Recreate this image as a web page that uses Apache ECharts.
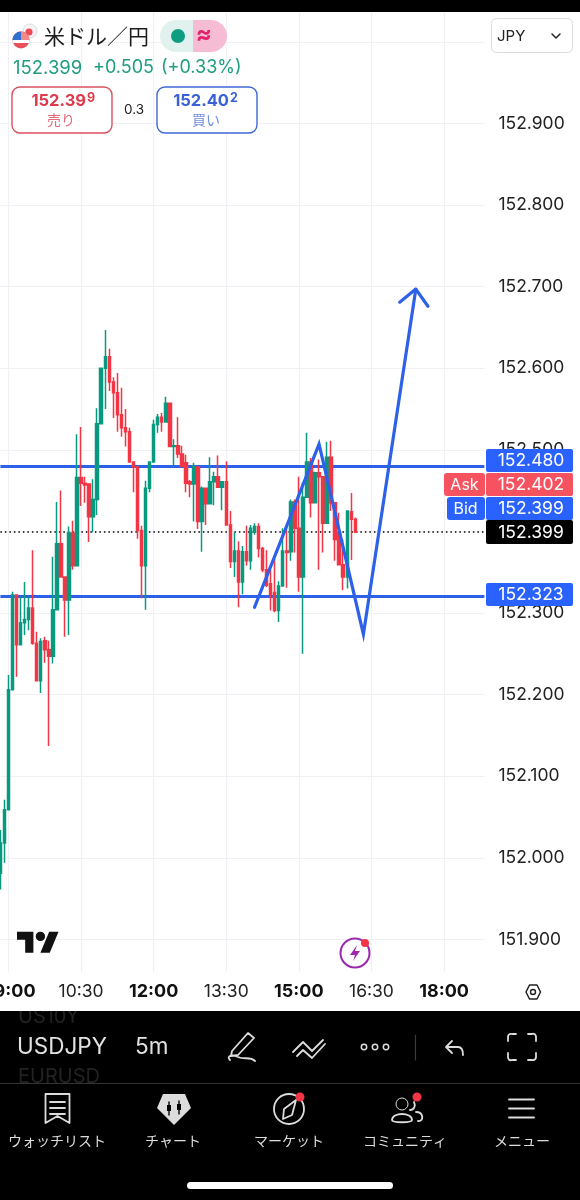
<!DOCTYPE html>
<html>
<head>
<meta charset="utf-8">
<style>
  html, body { margin: 0; padding: 0; background: #fff; }
  #chart { width: 580px; height: 1200px; }
</style>
<script src="https://cdn.jsdelivr.net/npm/echarts@6/dist/echarts.min.js"></script>
</head>
<body>
<div id="chart"></div>
<script>
// 5m candles, first one is 08:50
const opens = [151.981,152.018,152.059,152.206,152.322,152.261,152.288,152.292,152.306,152.263,152.217,152.266,152.255,152.247,152.304,152.385,152.344,152.316,152.398,152.358,152.466,152.459,152.458,152.418,152.439,152.532,152.600,152.614,152.583,152.570,152.543,152.527,152.522,152.485,152.479,152.401,152.358,152.453,152.485,152.531,152.540,152.534,152.557,152.504,152.505,152.495,152.484,152.461,152.458,152.479,152.412,152.453,152.434,152.461,152.467,152.454,152.461,152.408,152.363,152.376,152.338,152.375,152.364,152.399,152.406,152.379,152.353,152.336,152.325,152.303,152.333,152.376,152.375,152.436,152.404,152.344,152.442,152.485,152.435,152.472,152.467,152.410,152.491,152.435,152.399,152.359,152.344,152.424,152.415]
const closes = [152.018,152.059,152.206,152.322,152.261,152.288,152.292,152.306,152.263,152.217,152.265,152.255,152.247,152.304,152.385,152.344,152.316,152.398,152.358,152.466,152.459,152.457,152.418,152.439,152.532,152.600,152.614,152.583,152.570,152.543,152.527,152.522,152.485,152.479,152.401,152.358,152.453,152.485,152.531,152.540,152.534,152.557,152.504,152.505,152.495,152.480,152.459,152.458,152.480,152.412,152.453,152.434,152.461,152.467,152.454,152.461,152.408,152.363,152.376,152.338,152.375,152.364,152.404,152.406,152.379,152.353,152.334,152.323,152.303,152.333,152.376,152.374,152.436,152.404,152.344,152.442,152.485,152.435,152.472,152.467,152.410,152.491,152.435,152.390,152.359,152.344,152.425,152.415,152.399]
const lows = [151.961,151.994,152.059,152.206,152.222,152.261,152.273,152.279,152.261,152.217,152.202,152.239,152.137,152.238,152.304,152.344,152.271,152.273,152.353,152.358,152.431,152.435,152.387,152.399,152.420,152.532,152.550,152.572,152.539,152.522,152.516,152.504,152.485,152.448,152.391,152.318,152.304,152.448,152.485,152.521,152.522,152.534,152.504,152.480,152.490,152.480,152.448,152.442,152.412,152.403,152.375,152.408,152.434,152.432,152.454,152.426,152.408,152.355,152.344,152.307,152.323,152.358,152.353,152.396,152.368,152.350,152.332,152.303,152.301,152.289,152.333,152.331,152.364,152.374,152.326,152.250,152.442,152.417,152.435,152.353,152.374,152.410,152.425,152.364,152.359,152.328,152.330,152.365,152.399]
const highs = [152.034,152.071,152.224,152.326,152.322,152.320,152.338,152.320,152.377,152.277,152.269,152.271,152.266,152.369,152.436,152.450,152.344,152.406,152.413,152.519,152.528,152.467,152.459,152.464,152.551,152.600,152.647,152.624,152.589,152.594,152.576,152.550,152.527,152.485,152.479,152.407,152.462,152.486,152.537,152.544,152.545,152.565,152.557,152.513,152.540,152.505,152.494,152.463,152.484,152.480,152.455,152.453,152.491,152.473,152.493,152.461,152.486,152.425,152.399,152.388,152.382,152.407,152.408,152.410,152.410,152.381,152.377,152.353,152.366,152.339,152.404,152.406,152.439,152.439,152.467,152.460,152.521,152.490,152.473,152.488,152.467,152.510,152.511,152.436,152.423,152.390,152.425,152.447,152.417]

const priceTicks = [151.9, 152.0, 152.1, 152.2, 152.3, 152.4, 152.5, 152.6, 152.7, 152.8, 152.9]
const gridTicks = [...priceTicks, 153.0]
const timeLabels = ['09:00', '10:30', '12:00', '13:30', '15:00', '16:30', '18:00']
const boldLabels = ['09:00', '12:00', '15:00', '18:00']

const supportResistance = [152.480, 152.323]
const lastPrice = 152.399

// hand drawn path and arrow head
const drawnTimes = ['14:05', '15:25', '16:20', '17:25']
const drawnPrices = [152.307, 152.507, 152.274, 152.697]
const arrowTimes = ['17:05', '17:25', '17:40']
const arrowPrices = [152.681, 152.697, 152.676]

const priceTags = [
  { text: '152.480', y: 449, h: 23, bg: '#2962ff' },
  { text: '152.402', y: 473, h: 23, bg: '#f7525f' },
  { text: '152.399', y: 497, h: 23, bg: '#2962ff' },
  { text: '152.399', y: 520, h: 24, bg: '#000000' },
  { text: '152.323', y: 583, h: 23, bg: '#2962ff' }
]

function timeRange (count) {
  const out = []
  for (let i = 0; i < count; i++) {
    const m = 8 * 60 + 50 + i * 5
    out.push(`${Math.floor(m / 60)}`.padStart(2, '0') + ':' + `${m % 60}`.padStart(2, '0'))
  }
  return out
}

const categories = timeRange(121)
const candles = opens.map((o, i) => [o, closes[i], lows[i], highs[i]])

const LATIN = 'Inter, Roboto, sans-serif'
const CJK = '"Noto Sans CJK JP", sans-serif'
const BLUE = '#2d62e8'
const ICON = '#dcdcdc'

function text (x, y, str, size, fill, o = {}) {
  return {
    type: 'text', z: 100, x, y,
    style: {
      text: str, fill,
      font: `${o.weight || 'normal'} ${size}px ${o.family || LATIN}`,
      textAlign: o.align || 'left', textVerticalAlign: 'middle'
    }
  }
}
function box (x, y, w, h, fill, o = {}) {
  return {
    type: 'rect', z: o.z || 99, shape: { x, y, width: w, height: h, r: o.r || 0 },
    style: { fill, stroke: o.stroke || null, lineWidth: o.lineWidth || 1 }
  }
}
function dot (x, y, r, fill, o = {}) {
  return { type: 'circle', z: o.z || 100, shape: { cx: x, cy: y, r }, style: { fill, stroke: o.stroke || null, lineWidth: o.lineWidth || 1 } }
}
// graphic has no plain path type, so each icon gets its own registered shape
let pathCount = 0
function path (d, o = {}) {
  const name = 'iconPath' + pathCount++
  echarts.graphic.registerShape(name, echarts.graphic.extendPath(d))
  return {
    type: name, z: o.z || 100, x: o.x || 0, y: o.y || 0, scaleX: o.scale || 1, scaleY: o.scale || 1,
    style: { fill: o.fill || 'none', stroke: o.stroke || 'none', lineWidth: o.lineWidth || 1.8, lineCap: 'round', lineJoin: 'round' }
  }
}

const graphics = [
  // status bar edge
  box(0, 0, 580, 12, '#000'),

  // header
  dot(30, 31, 7, '#f4f4f4', { stroke: '#dddddd' }),
  dot(29, 32, 3.6, '#ee4a55'),
  dot(21, 40, 8.5, '#e8505b'),
  path('M12.5 40 A8.5 8.5 0 0 1 21 31.5 L21 40 Z', { fill: '#2f6fd0' }),
  path('M21 31.5 A8.5 8.5 0 0 1 29.5 40 L21 40 Z', { fill: '#f08a8a' }),
  box(12.8, 40, 16.4, 3, '#ffffff', { z: 100 }),
  text(44, 36, '米ドル／円', 21, '#1c1c1c', { family: CJK }),
  path('M193 20 H176 A16 16 0 0 0 176 52 H193 Z', { fill: '#e1f2ee' }),
  path('M193 20 H211 A16 16 0 0 1 211 52 H193 Z', { fill: '#f6bcd4' }),
  dot(178, 36, 7, '#0f9d82'),
  text(204, 35, '≈', 24, '#e2246c', { align: 'center', weight: 'bold' }),
  text(13, 68, '152.399', 18.5, '#1f9d80'),
  text(93, 68, '+0.505', 18, '#1f9d80'),
  text(161, 68, '(+0.33%)', 18, '#1f9d80'),

  box(12, 87, 100, 46, '#fff', { r: 8, stroke: '#d9505f', lineWidth: 1.4 }),
  text(86, 101, '152.39', 16.5, '#de3a4e', { align: 'right', weight: 'bold' }),
  text(87, 98, '9', 12.5, '#de3a4e', { weight: 'bold' }),
  text(61, 120, '売り', 14, '#e36a78', { align: 'center', family: CJK }),
  text(134, 110, '0.3', 13.5, '#222', { align: 'center' }),
  box(157, 87, 100, 46, '#fff', { r: 8, stroke: '#3f68d8', lineWidth: 1.4 }),
  text(229, 101, '152.40', 16.5, '#3a62d6', { align: 'right', weight: 'bold' }),
  text(230, 98, '2', 12.5, '#3a62d6', { weight: 'bold' }),
  text(206, 120, '買い', 14, '#7390dd', { align: 'center', family: CJK }),

  box(491.5, 18.5, 81, 34, '#fff', { r: 5, stroke: '#dcdce0' }),
  text(497, 36, 'JPY', 15, '#222'),
  path('M552 34 L556 38 L560 34', { stroke: '#222', lineWidth: 1.5 }),

  // logos over the plot
  path('M14 22H7V11H0V4h14v18zM28 22h-8l7.5-18h8L28 22z', { x: 17, y: 927, scale: 1.17, fill: '#111' }),
  dot(40.4, 936.4, 4.7, '#111'),
  dot(355, 953, 14.5, '#fff', { stroke: '#9b27af', lineWidth: 2 }),
  path('M357 945 L350 955 L355 955 L353 961 L360 951 L355 951 Z', { fill: '#9b27af' }),
  dot(365, 943, 4, '#f23645'),

  // time axis corner
  path('M526 992 L529.5 985 L537 985 L540.5 992 L537 999 L529.5 999 Z', { stroke: '#222', lineWidth: 1.5 }),
  dot(533, 992, 2.5, '#fff', { stroke: '#222', lineWidth: 1.4 }),

  // toolbar and nav
  box(0, 1011, 580, 189, '#000', { z: 98 }),
  text(18, 1017, 'US10Y', 20, '#222'),
  box(0, 1003, 150, 8, '#fff', { z: 101 }),
  text(18, 1077, 'EURUSD', 20, '#222'),
  text(17, 1047, 'USDJPY', 22.5, '#e2e2e2'),
  text(135, 1047, '5m', 22.5, '#e2e2e2'),
  path('M232 1051 L248 1033 L254 1038 L238 1055 L231 1056 Z M230 1060 C226 1056 232 1054 238 1057 C244 1060 250 1056 255 1061', { stroke: ICON }),
  path('M293 1052 L303 1042 L312 1051 L323 1040 M297 1056 L303 1050 L312 1058 L325 1044', { stroke: ICON }),
  dot(364, 1047, 2.7, '#000', { stroke: ICON, lineWidth: 1.5 }),
  dot(375, 1047, 2.7, '#000', { stroke: ICON, lineWidth: 1.5 }),
  dot(386, 1047, 2.7, '#000', { stroke: ICON, lineWidth: 1.5 }),
  path('M415.5 1035 V1060', { stroke: '#3a3a3a', lineWidth: 1.2 }),
  path('M452 1041 L446 1047 L452 1053 M447 1047 H458 C462 1047 463 1051 463 1055', { stroke: ICON }),
  path('M508 1041 V1037 A3 3 0 0 1 512 1034 H516 M528 1034 H532 A3 3 0 0 1 536 1037 V1041 M536 1053 V1057 A3 3 0 0 1 532 1060 H528 M516 1060 H512 A3 3 0 0 1 508 1057 V1053', { stroke: ICON }),
  path('M0 1083.5 H580', { stroke: '#333', lineWidth: 1 }),

  path('M45.5 1094 H69.5 V1123 L57.5 1116 L45.5 1123 Z M50 1102 H65 M50 1108 H65 M50 1114 H65', { stroke: ICON }),
  path('M163 1094 H185 L191 1108 L174 1125 L157 1108 Z', { fill: ICON }),
  path('M169 1102 V1115 M179 1101 V1114', { stroke: '#000', lineWidth: 1.4, z: 101 }),
  box(167, 1105, 4, 6, '#000', { z: 101 }),
  box(177, 1104, 4, 6, '#000', { z: 101 }),
  dot(289, 1109, 15, '#000', { stroke: ICON, lineWidth: 1.8 }),
  path('M296 1100 L292 1115 L283 1119 L284 1109 Z', { stroke: ICON, z: 101 }),
  dot(300, 1097, 4.5, '#f23645', { z: 102 }),
  dot(402, 1104, 6, '#000', { stroke: ICON }),
  path('M392 1120 C392 1112 412 1112 412 1120 C412 1123 392 1123 392 1120 Z', { stroke: ICON }),
  path('M414 1102 C416 1106 414 1110 410 1110 M416 1112 C424 1112 424 1122 418 1121', { stroke: ICON }),
  dot(417, 1097, 4.5, '#f23645', { z: 102 }),
  path('M509 1099.5 H534 M509 1108.5 H534 M509 1117.5 H534', { stroke: ICON }),
  text(57, 1141, 'ウォッチリスト', 14, ICON, { align: 'center', family: CJK }),
  text(173, 1141, 'チャート', 14, ICON, { align: 'center', family: CJK }),
  text(289, 1141, 'マーケット', 14, ICON, { align: 'center', family: CJK }),
  text(405, 1141, 'コミュニティ', 14, ICON, { align: 'center', family: CJK }),
  text(522, 1141, 'メニュー', 14, ICON, { align: 'center', family: CJK }),
  box(187, 1182, 206, 7, '#fff', { r: 3.5 }),

  // price tags
  ...priceTags.map(t => box(486, t.y, 87, t.h, t.bg, { r: 2 })),
  ...priceTags.map(t => text(531, t.y + t.h / 2 + 0.5, t.text, 17.5, '#fff', { align: 'center' })),
  box(444, 473, 41, 23, '#f7525f', { r: 3 }),
  box(447, 497, 38, 23, '#2962ff', { r: 3 }),
  text(464.5, 485, 'Ask', 16, '#fff', { align: 'center' }),
  text(465.5, 509, 'Bid', 16, '#fff', { align: 'center' })
]

const chart = echarts.init(document.getElementById('chart'), null, { renderer: 'canvas' })
chart.setOption({
  animation: false,
  backgroundColor: '#fff',
  grid: { left: 0.4, top: 12, width: 484, height: 960, outerBoundsMode: 'none' },
  xAxis: {
    type: 'category',
    data: categories,
    boundaryGap: false,
    axisLine: { show: false },
    axisTick: { show: false },
    axisLabel: {
      interval: (i, v) => timeLabels.includes(v),
      hideOverlap: false,
      margin: 11,
      fontFamily: LATIN,
      fontSize: 17.5,
      color: '#222',
      formatter: v => boldLabels.includes(v) ? `{b|${v}}` : v,
      rich: { b: { fontFamily: LATIN, fontSize: 18, fontWeight: 'bold', color: '#111' } }
    },
    splitLine: {
      show: true,
      interval: (i, v) => timeLabels.includes(v),
      lineStyle: { color: '#f0f1f4', width: 1.2 }
    }
  },
  yAxis: {
    type: 'value',
    position: 'right',
    min: 151.86,
    max: 153.0366,
    axisLine: { show: false },
    axisTick: { show: false, customValues: gridTicks },
    axisLabel: {
      customValues: priceTicks,
      margin: 14,
      padding: [2, 0, 0, 0],
      fontFamily: LATIN,
      fontSize: 17.5,
      color: '#222',
      formatter: v => v.toFixed(3)
    },
    splitLine: { show: true, lineStyle: { color: '#f0f1f4', width: 1.2 } }
  },
  series: [
    {
      type: 'candlestick',
      data: candles,
      barWidth: 3,
      itemStyle: { color: '#089981', color0: '#f23645', borderColor: '#089981', borderColor0: '#f23645', borderWidth: 1.5 },
      markLine: {
        silent: true,
        symbol: ['none', 'none'],
        z: 1,
        label: { show: false },
        data: [
          ...supportResistance.map(v => ({ yAxis: v, lineStyle: { color: BLUE, width: 3, type: 'solid' } })),
          { yAxis: lastPrice, lineStyle: { color: '#000', width: 1.5, type: [1.5, 3] } }
        ]
      }
    },
    {
      type: 'line',
      data: drawnTimes.map((t, i) => [t, drawnPrices[i]]),
      symbol: 'none',
      z: 5,
      lineStyle: { color: BLUE, width: 3.2, cap: 'round', join: 'miter' }
    },
    {
      type: 'line',
      data: arrowTimes.map((t, i) => [t, arrowPrices[i]]),
      symbol: 'none',
      z: 5,
      lineStyle: { color: BLUE, width: 3.2, cap: 'round' }
    }
  ],
  graphic: { elements: graphics }
})
</script>
</body>
</html>
